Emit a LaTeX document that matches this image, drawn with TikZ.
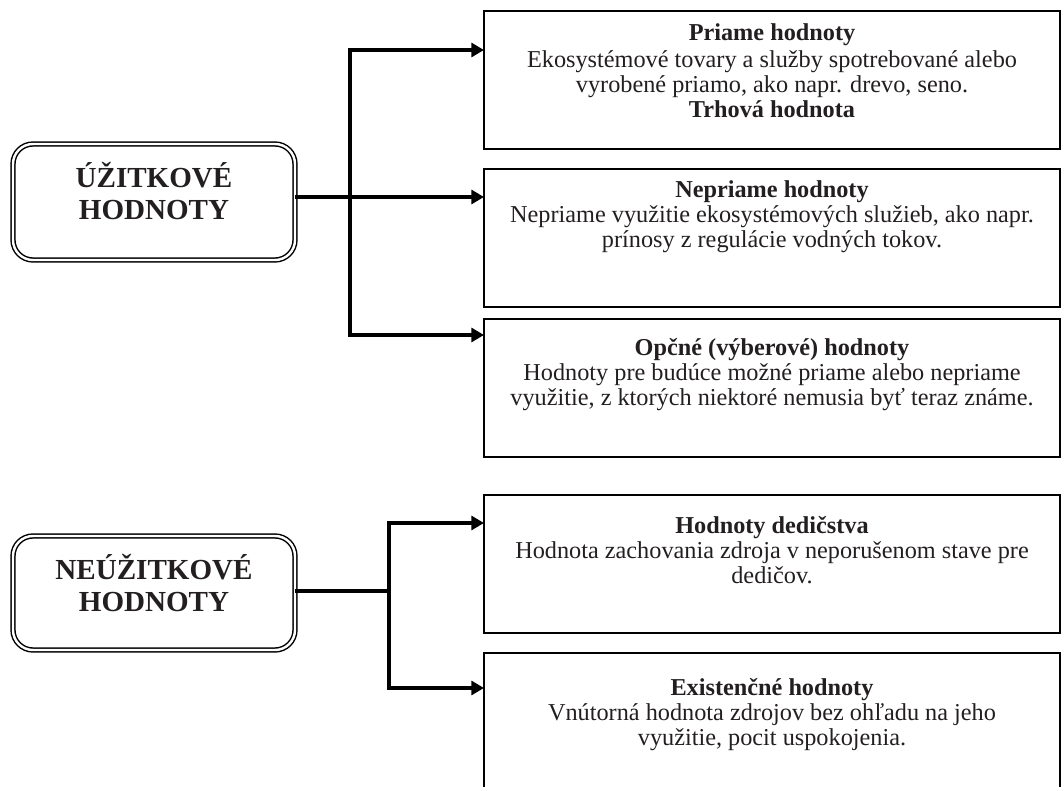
\documentclass[tikz,border=0pt]{standalone}
\usepackage{fontspec}
\setmainfont{Liberation Serif}
\usetikzlibrary{arrows.meta}
\definecolor{ink}{HTML}{231F20}
\tikzset{headtip/.tip={Triangle[length=9.5pt,width=10.5pt]}}
\begin{document}
\begin{tikzpicture}[x=0.75pt,y=-0.75pt,
  groupbox/.style={draw=black, line width=1.1pt, double=white, double distance=1.8pt,
    rounded corners=15pt, minimum width=211.5pt, inner sep=0pt, outer sep=0pt},
  valuebox/.style={draw=black, line width=1.8pt, minimum width=432pt,
    minimum height=103.5pt, inner sep=0pt, outer sep=0pt},
  grouptext/.style={anchor=south, align=center, inner sep=0pt, text depth=0pt,
    text=ink, font=\fontsize{21.8}{24}\selectfont\bfseries},
  valuetext/.style={anchor=south, align=center, inner sep=0pt, text depth=0pt,
    text=ink, font=\fontsize{18.2}{18.9}\selectfont},
  link/.style={line width=2.6pt, line join=miter, draw=black},
]
\useasboundingbox (0,0) rectangle (1063,787);

% category boxes on the left
\node[groupbox, minimum height=87pt] (use) at (154,202) {};
\node[grouptext] (usetxt) at (154,220) {ÚŽITKOVÉ\\HODNOTY};
\node[groupbox, minimum height=85.5pt] (nonuse) at (154,593) {};
\node[grouptext] (nonusetxt) at (154,612) {NEÚŽITKOVÉ\\HODNOTY};

% value boxes on the right
\node[valuebox] (direct) at (772,80) {};
\node[valuetext] (directtxt) at (772,118) {\textbf{Priame hodnoty}\\[1pt]
  Ekosystémové tovary a služby spotrebované alebo\\
  vyrobené priamo, ako napr. drevo, seno.\\
  \textbf{Trhová hodnota}};

\node[valuebox] (indirect) at (772,238) {};
\node[valuetext] (indirecttxt) at (772,248) {\textbf{Nepriame hodnoty}\\
  Nepriame využitie ekosystémových služieb, ako napr.\\
  prínosy z regulácie vodných tokov.};

\node[valuebox] (option) at (772,388) {};
\node[valuetext] (optiontxt) at (772,406) {\textbf{Opčné (výberové) hodnoty}\\
  Hodnoty pre budúce možné priame alebo nepriame\\
  využitie, z ktorých niektoré nemusia byť teraz známe.};

\node[valuebox] (bequest) at (772,564) {};
\node[valuetext] (bequesttxt) at (772,584) {\textbf{Hodnoty dedičstva}\\
  Hodnota zachovania zdroja v neporušenom stave pre\\
  dedičov.};

\node[valuebox] (existence) at (772,722) {};
\node[valuetext] (existencetxt) at (772,746) {\textbf{Existenčné hodnoty}\\
  Vnútorná hodnota zdrojov bez ohľadu na jeho\\
  využitie, pocit uspokojenia.};

% branching connectors
\coordinate (usejoint) at (350,197);
\coordinate (nonusejoint) at (389,591);

\draw[link, -headtip] (use.east |- usejoint) -- (indirect.west |- usejoint);
\draw[link, headtip-headtip] (direct.west |- 0,50) -| (usejoint) |- (option.west |- 0,335);

\draw[link] (nonuse.east |- nonusejoint) -- (nonusejoint);
\draw[link, headtip-headtip] (bequest.west |- 0,523) -| (nonusejoint) |- (existence.west |- 0,688);
\end{tikzpicture}
\end{document}
